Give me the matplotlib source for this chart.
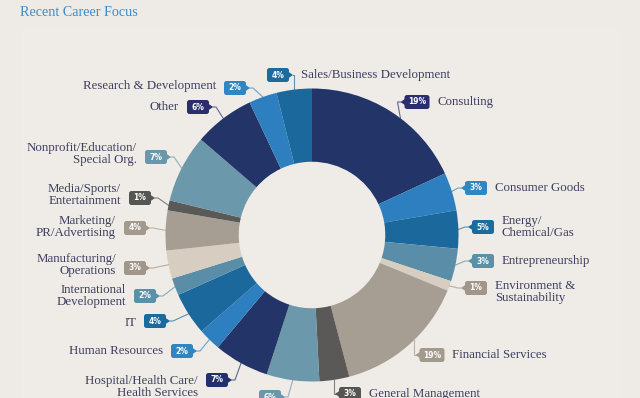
import matplotlib
matplotlib.use("Agg")
import matplotlib.pyplot as plt
import numpy as np
from matplotlib.patches import FancyBboxPatch, Polygon, Rectangle

# --- data (clockwise from 12 o'clock) ---
categories = ["Consulting", "Consumer Goods", "Energy/\nChemical/Gas", "Entrepreneurship",
              "Environment &\nSustainability", "Financial Services", "General Management",
              "Government", "Hospital/Health Care/\nHealth Services", "Human Resources", "IT",
              "International\nDevelopment", "Manufacturing/\nOperations", "Marketing/\nPR/Advertising",
              "Media/Sports/\nEntertainment", "Nonprofit/Education/\nSpecial Org.", "Other",
              "Research & Development", "Sales/Business Development"]
pct_labels = ["19%", "3%", "5%", "3%", "1%", "19%", "3%", "6%", "7%", "2%", "4%",
              "2%", "3%", "4%", "1%", "7%", "6%", "2%", "4%"]
# slice sizes as drawn in the chart (share of the ring, %)
shares = [18.1, 4.2, 4.2, 3.6, 1.1, 14.7, 3.3, 5.8, 6.1, 2.5, 4.7,
          1.9, 3.1, 4.4, 1.1, 7.5, 6.7, 3.1, 3.9]

slice_colors = ["#233469", "#2e7fbf", "#1a689c", "#5a8ea8", "#d7cdc0", "#a69e92", "#5a5957",
                "#6b98aa", "#223468", "#2e7fbf", "#1a689c", "#5a8ea8", "#d7cdc0", "#a69e92",
                "#5a5957", "#6b98aa", "#233469", "#2e7fbf", "#1a689c"]
tag_colors = ["#2a2d6e", "#2f86c0", "#1b6c9e", "#5a90a8", "#a0968a", "#a39a8e", "#555553",
              "#6a98ab", "#24306a", "#2f86c0", "#1b6c9e", "#5a90a8", "#a0968a", "#a39a8e",
              "#555553", "#6a98ab", "#2a2d6e", "#2f86c0", "#1b6c9e"]

# --- layout (pixel coords from the top-left) ---
tag_x = [417, 476, 483, 483, 476, 432, 350, 270, 217, 182, 155, 145, 135, 135, 140, 156, 198, 235, 278]
tag_y = [102, 188, 227, 261, 288, 355, 394, 397, 380, 351, 321, 296, 268, 228, 198, 157, 107, 88, 75]
pointer_side = ['L'] * 7 + ['R'] * 12
label_side = ['R'] * 7 + [None] + ['L'] * 10 + ['R']
label_dy = [0, 0, 0, 0, 4, 0, 0, 0, 7, 0, 2, 0, -3, -1, -3, -3, 0, -2, 0]
leader = ['diag'] * 19
leader[5] = leader[6] = leader[18] = 'vert'
anchor_frac = [0.57] + [0.5] * 4 + [0.44] + [0.5] * 13

W, H = 640, 398
CX, CY, R = 312, 235, 146.5
BG = "#eeeae5"
TXT = "#3e3f5e"


def Y(y):
    return H - y


fig = plt.figure(figsize=(6.4, 3.98), dpi=100, facecolor=BG)
ax = fig.add_axes([0, 0, 1, 1])
ax.set_facecolor(BG)
ax.add_patch(Rectangle((22, 0), 598, Y(30), fc="#efebe7", ec="none", zorder=0))

ax.pie(shares, colors=slice_colors, startangle=90, counterclock=False,
       radius=R, center=(CX, Y(CY)),
       wedgeprops=dict(width=R / 2, edgecolor='none', linewidth=0))

ax.text(20, Y(13), "Recent Career Focus", fontsize=10.2, color="#3f8ccb",
        family="Liberation Serif", va='center', ha='left')

cum = np.concatenate([[0], np.cumsum(shares)]) / sum(shares) * 360
for i in range(len(categories)):
    ang = np.deg2rad(cum[i] + (cum[i + 1] - cum[i]) * anchor_frac[i])
    ax_x = CX + R * np.sin(ang)
    ax_y = CY - R * np.cos(ang)

    tx, ty = tag_x[i], tag_y[i]
    tw = 25 if len(pct_labels[i]) > 2 else 22
    th = 14
    d = -1 if pointer_side[i] == 'L' else 1
    edge = tx + d * tw / 2
    tip = edge + d * 4

    # leader line
    if leader[i] == 'vert':
        xs = [tip, ax_x, ax_x]
        ys = [ty, ty, ax_y]
    else:
        xs = [tip, tip + d * 3, ax_x]
        ys = [ty, ty, ax_y]
    ax.plot(xs, [Y(v) for v in ys], color=tag_colors[i], lw=0.8, alpha=0.7,
            solid_joinstyle='miter', zorder=2)

    # tag
    ax.add_patch(FancyBboxPatch((tx - tw / 2 + 2, Y(ty) - th / 2 + 2), tw - 4, th - 4,
                                boxstyle="round,pad=2,rounding_size=2.5",
                                fc=tag_colors[i], ec='none', zorder=3))
    ax.add_patch(Polygon([(edge - d * 1, Y(ty) + 3.5), (tip, Y(ty)), (edge - d * 1, Y(ty) - 3.5)],
                         closed=True, fc=tag_colors[i], ec='none', zorder=3))
    ax.text(tx, Y(ty), pct_labels[i], color='white', fontsize=5.5, fontweight='bold',
            family="DejaVu Sans", ha='center', va='center', zorder=4)

    # category label
    if label_side[i] == 'R':
        lx = (tip if pointer_side[i] == 'R' else tx + tw / 2) + 8
        ha = 'left'
    elif label_side[i] == 'L':
        lx = tx - tw / 2 - 8
        ha = 'right'
    else:
        continue
    ax.text(lx, Y(ty + label_dy[i]), categories[i], color=TXT, fontsize=9.3,
            family="Liberation Serif", ha=ha, va='center', linespacing=1.1,
            multialignment=ha, zorder=4)

ax.set_xlim(0, W)
ax.set_ylim(0, H)
ax.set_aspect('equal')
ax.axis('off')

plt.savefig("out.png", dpi=100, facecolor=BG)
